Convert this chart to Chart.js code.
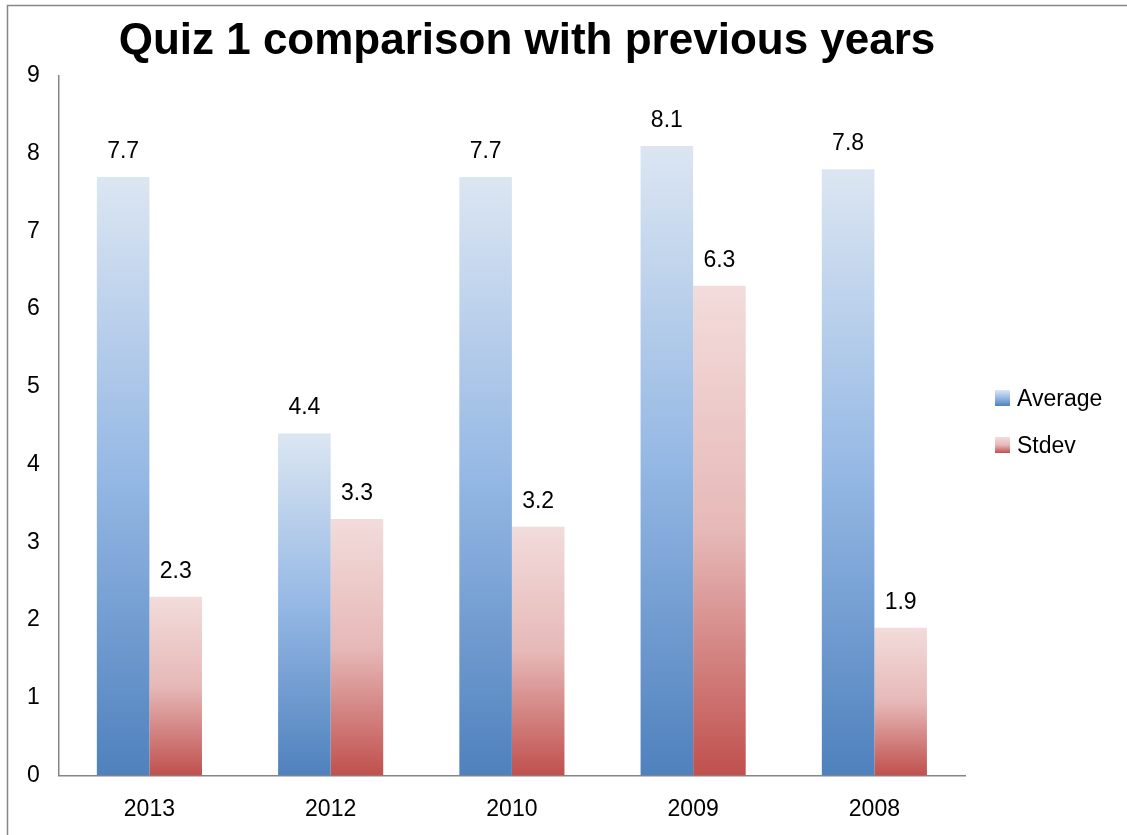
<!DOCTYPE html>
<html>
<head>
<meta charset="utf-8">
<script src="https://cdn.jsdelivr.net/npm/chart.js@4"></script>
<style>
  html, body { margin: 0; padding: 0; background: #fff; }
  #wrap { width: 1127px; height: 835px; }
</style>
</head>
<body>
<div id="wrap"><canvas id="quizChart"></canvas></div>
<script>
const categories = ['2013', '2012', '2010', '2009', '2008'];
const averageValues = [7.7, 4.4, 7.7, 8.1, 7.8];
const stdevValues = [2.3, 3.3, 3.2, 6.3, 1.9];
const yTicks = [0, 1, 2, 3, 4, 5, 6, 7, 8, 9];

const FONT = "'Liberation Sans', Arial, sans-serif";
const blueStops = ['#dce6f2', '#95b8e4', '#4f81bd'];
const redStops = ['#f2dcdb', '#e6b9b8', '#c0504d'];

function barGradient(context, stops) {
    const chart = context.chart;
    if (context.type !== 'data' || !chart.chartArea) return stops[1];
    const y = chart.scales.y;
    const top = y.getPixelForValue(context.raw);
    const base = y.getPixelForValue(0);
    const g = chart.ctx.createLinearGradient(0, top, 0, base);
    g.addColorStop(0, stops[0]);
    g.addColorStop(0.5, stops[1]);
    g.addColorStop(1, stops[2]);
    return g;
}

// frame, title, value labels and legend drawn on the canvas
const decorations = {
    id: 'decorations',
    beforeDraw(chart) {
        const ctx = chart.ctx;
        ctx.save();
        ctx.strokeStyle = '#868686';
        ctx.lineWidth = 1.5;
        ctx.strokeRect(7.5, 5.5, 1300, 1000);
        ctx.restore();
    },
    afterDatasetsDraw(chart) {
        const ctx = chart.ctx;
        ctx.save();
        ctx.fillStyle = '#000';
        ctx.font = 'bold 44px ' + FONT;
        ctx.textAlign = 'center';
        ctx.textBaseline = 'alphabetic';
        ctx.fillText('Quiz 1 comparison with previous years', 527, 54);

        ctx.font = '23px ' + FONT;
        chart.data.datasets.forEach((ds, i) => {
            chart.getDatasetMeta(i).data.forEach((bar, j) => {
                ctx.fillText(String(ds.data[j]), bar.x, bar.y - 19);
            });
        });

        const legendItems = [
            { text: chart.data.datasets[0].label, stops: blueStops, y: 390 },
            { text: chart.data.datasets[1].label, stops: redStops, y: 437 }
        ];
        ctx.textAlign = 'left';
        legendItems.forEach(item => {
            const g = ctx.createLinearGradient(0, item.y, 0, item.y + 16);
            g.addColorStop(0, item.stops[0]);
            g.addColorStop(0.5, item.stops[1]);
            g.addColorStop(1, item.stops[2]);
            ctx.fillStyle = g;
            ctx.fillRect(995, item.y, 15, 16);
            ctx.fillStyle = '#000';
            ctx.fillText(item.text, 1017, item.y + 16);
        });
        ctx.restore();
    }
};

new Chart(document.getElementById('quizChart'), {
    type: 'bar',
    data: {
        labels: categories,
        datasets: [
            {
                label: 'Average',
                data: averageValues,
                backgroundColor: ctx => barGradient(ctx, blueStops),
                borderWidth: 0
            },
            {
                label: 'Stdev',
                data: stdevValues,
                backgroundColor: ctx => barGradient(ctx, redStops),
                borderWidth: 0
            }
        ]
    },
    options: {
        responsive: true,
        maintainAspectRatio: false,
        animation: false,
        categoryPercentage: 0.58,
        barPercentage: 1.0,
        layout: { padding: { left: 8, right: 162, top: 76, bottom: -8 } },
        plugins: {
            legend: { display: false },
            title: { display: false },
            tooltip: { enabled: false }
        },
        scales: {
            x: {
                grid: { display: false, drawTicks: false },
                border: { display: true, color: '#868686', width: 1.5 },
                ticks: { color: '#000', font: { family: FONT, size: 23 }, padding: 20 }
            },
            y: {
                min: 0,
                max: 9,
                afterBuildTicks: scale => { scale.ticks = yTicks.map(v => ({ value: v })); },
                grid: { display: false, drawTicks: false },
                border: { display: true, color: '#868686', width: 1.5 },
                ticks: { color: '#000', font: { family: FONT, size: 23 }, padding: 19 }
            }
        }
    },
    plugins: [decorations]
});
</script>
</body>
</html>
